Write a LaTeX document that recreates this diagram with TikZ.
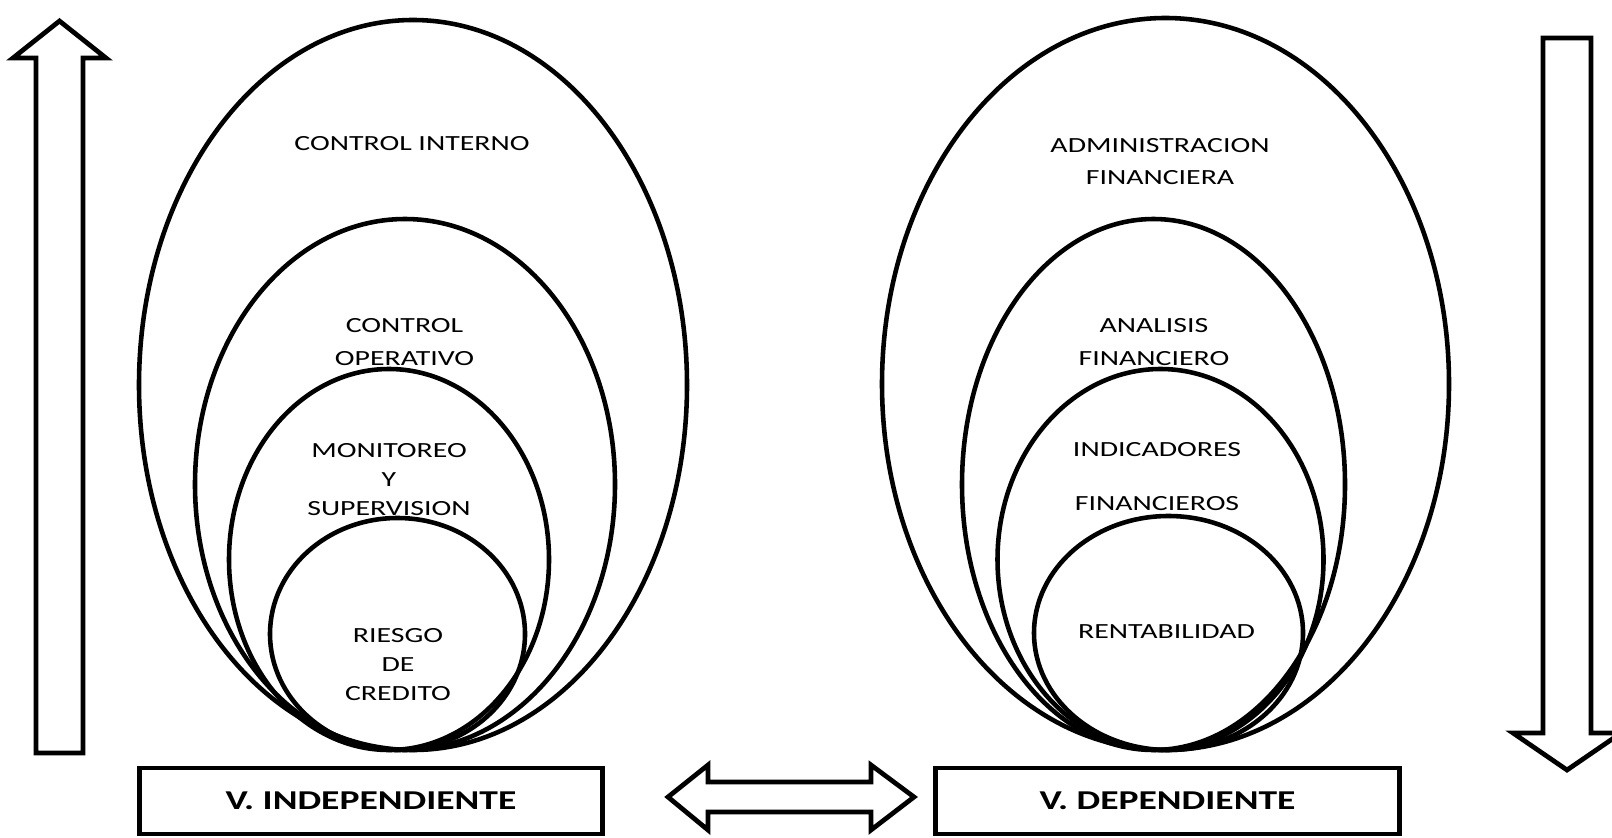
\documentclass[tikz,border=0pt]{standalone}
\usepackage{fontspec}
\setmainfont{Carlito}[FakeStretch=1.38]
\begin{document}
\begin{tikzpicture}[x=0.02cm,y=-0.02cm,
    oval/.style={line width=2.6pt},
    flecha/.style={line width=2.7pt,line join=miter},
    texto/.style={align=center,inner sep=0pt,font=\fontsize{12.3}{16.7}\selectfont},
    caja/.style={draw,line width=2.7pt,minimum width=9.27cm,minimum height=1.32cm,
        font=\fontsize{15.5}{18}\selectfont\bfseries}]
    \useasboundingbox (0,0) rectangle (1612,838);
    \draw [flecha] (59.5,21) -- (106,58) -- (83,58) -- (83,753) -- (36,753) -- (36,58) -- (13,58) -- cycle;
    \draw [flecha] (1543,38) -- (1591,38) -- (1591,733) -- (1621,733) -- (1567,770) -- (1513,733) -- (1543,733) -- cycle;
    \draw [flecha] (668,797) -- (708,765) -- (708,782) -- (871,782) -- (871,765) -- (914,797) -- (871,830) -- (871,812) -- (708,812) -- (708,830) -- cycle;
    \draw [oval] (413,385) ellipse (274 and 365);
    \draw [oval] (405,484.5) ellipse (210 and 265.5);
    \draw [oval] (389,559.5) ellipse (160 and 190.5);
    \draw [oval] (397.5,634) ellipse (127.5 and 116);
    \draw [oval] (1165.5,384) ellipse (283.5 and 366);
    \draw [oval] (1153.5,484.5) ellipse (191.5 and 265.5);
    \draw [oval] (1160.5,559.5) ellipse (163 and 190.5);
    \draw [oval] (1168.5,633) ellipse (134.5 and 117);
    \node [texto] (ci) at (412,144) {CONTROL INTERNO};
    \node [texto] (co) at (404.5,342) {CONTROL\\[2pt] OPERATIVO};
    \node [texto] (ms) at (389,479.5) {MONITOREO\\ Y\\ SUPERVISION};
    \node [texto] (rc) at (398,664.5) {RIESGO\\ DE\\ CREDITO};
    \node [texto] (af) at (1160,161.5) {ADMINISTRACION\\[2pt] FINANCIERA};
    \node [texto] (anf) at (1154,342) {ANALISIS\\[2pt] FINANCIERO};
    \node [texto] (inf) at (1157,477) {INDICADORES\\[14pt] FINANCIEROS};
    \node [texto] (rt) at (1166.5,631.5) {RENTABILIDAD};
    \node [caja] (vi) at (371,801) {V. INDEPENDIENTE};
    \node [caja] (vd) at (1167.5,801) {V. DEPENDIENTE};
\end{tikzpicture}
\end{document}
